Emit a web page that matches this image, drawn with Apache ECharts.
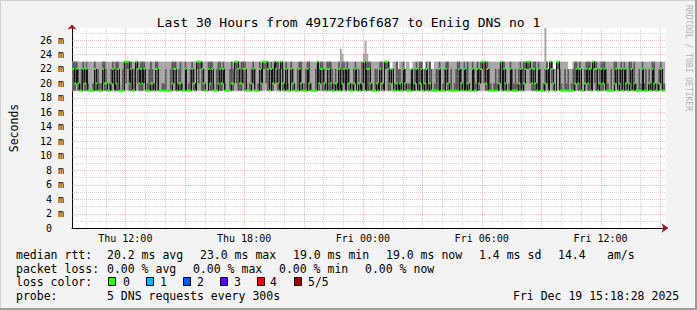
<!DOCTYPE html>
<html><head><meta charset="utf-8">
<script src="https://cdn.jsdelivr.net/npm/echarts@6/dist/echarts.min.js"></script>
<style>html,body{margin:0;padding:0;background:#f3f3f3}#c{width:697px;height:310px}</style>
</head><body><div id="c"></div><script>
// time axis in minutes since Thu Dec 18 00:00
const startTime = 558.4667;   // Thu 09:18:28
const endTime = 2358.4667;    // Fri 15:18:28
const stepMinutes = 5;
const firstStepEnd = 560;
const yMax = 27.66;

const xLabelValues = [720, 1080, 1440, 1800, 2160];
const xLabelTexts = ['Thu 12:00', 'Thu 18:00', 'Fri 00:00', 'Fri 06:00', 'Fri 12:00'];
const hourLines = [600,660,720,780,840,900,960,1020,1080,1140,1200,1260,1320,1380,1440,1500,1560,1620,1680,1740,1800,1860,1920,1980,2040,2100,2160,2220,2280,2340];
const yGridValues = [1,2,3,4,5,6,7,8,9,10,11,12,13,14,15,16,17,18,19,20,21,22,23,24,25,26,27];

// five sorted DNS rtt samples per 5-minute step (ms)
const ping1 = [
19,19,19,19,19,19,19,19,19,19, 19,19,19,19,19,19,19,19,19,19, 19,19,19,19,19,19,19,19,19,19,
19,19,19,19,19,19,19,19,19,19, 19,19,19,19,19,19,19,19,19,19, 19,19,19,19,19,19,19,19,19,19,
19,19,19,19,19,19,19,19,19,19, 19,19,19,19,19,19,19,19,19,19, 19,19,19,19,19,19,19,19,19,19,
19,19,19,19,19,19,19,19,19,19, 19,19,19,19,19,19,19,19,19,19, 19,19,19,19,19,19,19,19,19,19,
19,19,19,19,19,19,19,19,19,19, 19,19,19,19,19,19,19,19,19,19, 19,19,19,19,19,19,19,19,19,19,
19,19,19,19,19,19,19,19,19,19, 19,19,19,19,19,19,19,19,19,19, 19,19,19,19,19,19,19,19,19,19,
19,19,19,19,19,19,19,19,19,19, 19,19,19,19,19,19,19,19,19,19, 19,19,19,19,19,19,19,19,19,19,
19,19,19,19,19,19,19,19,19,19, 19,19,19,19,19,19,19,19,19,19, 19,19,19,19,19,19,19,19,19,19,
19,19,19,19,19,19,19,19,19,19, 19,19,19,19,19,19,19,19,19,19, 19,19,19,19,19,19,19,19,19,19,
19,19,19,19,19,19,19,19,19,19, 19,19,19,19,19,19,19,19,19,19, 19,19,19,19,19,19,19,19,19,19,
19,19,19,19,19,19,19,19,19,19, 19,19,19,19,19,19,19,19,19,19, 19,19,19,19,19,19,19,19,19,19,
19,19,19,19,19,19,19,19,19,19, 19,19,19,19,19,19,19,19,19,19, 19,19,19,19,19,19,19,19,19,19
];
const ping2 = [
19,19,19,20,19,19,19,20,19,19, 19,19,19,19,19,19,19,19,19,20, 19,19,19,19,19,20,19,19,19,19,
19,19,22,20,22,19,19,19,19,22, 20,19,19,19,20,19,19,19,19,19, 19,20,19,19,19,19,19,19,19,19,
19,19,20,19,19,19,19,19,19,19, 19,19,19,20,19,19,22,20,22,19, 19,19,19,20,19,19,19,19,19,19,
19,19,20,19,19,19,19,19,19,22, 20,19,19,19,20,19,19,19,19,19, 20,19,19,19,19,19,22,22,20,19,
19,19,19,22,20,19,19,22,19,19, 19,19,19,20,19,19,19,19,19,19, 19,19,19,19,19,19,19,19,19,22,
19,20,19,19,19,20,19,19,19,19, 19,19,19,19,19,20,19,20,19,19, 19,19,20,19,19,19,19,22,19,19,
19,19,19,19,19,19,19,20,19,19, 22,22,19,19,20,19,19,19,19,19, 19,20,19,19,19,19,19,19,19,20,
19,19,20,19,19,19,19,19,19,19, 19,19,19,19,19,19,19,20,19,19, 19,19,19,19,19,19,19,19,20,19,
19,19,19,19,19,19,19,19,20,22, 20,19,19,19,19,19,19,19,19,19, 22,19,19,19,19,19,20,19,19,19,
19,19,19,19,19,20,22,22,20,19, 19,19,19,19,19,19,19,19,20,19, 22,20,19,19,22,22,19,19,19,19,
19,19,19,19,19,19,20,19,19,19, 19,19,20,19,19,19,22,20,19,19, 19,19,19,20,19,19,19,19,19,19,
20,19,19,19,19,20,19,19,19,19, 19,19,19,19,19,19,20,19,19,19, 19,19,19,19,19,19,19,20,19,19
];
const ping3 = [
22,22,20,22,20,19,19,22,20,22, 19,19,19,19,22,20,19,19,19,22, 20,20,19,19,20,22,19,20,22,19,
19,19,23,23,23,20,22,19,19,23, 22,20,22,20,22,19,19,19,20,20, 19,22,22,19,19,19,19,19,19,19,
19,20,22,22,19,20,20,19,19,22, 19,19,19,22,20,19,23,23,23,22, 20,19,19,22,20,22,19,19,19,20,
22,20,22,19,19,19,19,20,20,23, 23,22,20,20,22,22,19,19,19,20, 22,19,19,19,22,20,23,23,23,22,
19,22,20,23,22,20,19,23,20,19, 22,19,19,22,20,19,19,19,22,20, 19,19,19,22,20,19,19,19,19,23,
20,22,22,20,19,22,22,20,19,19, 20,19,22,19,20,22,19,22,20,19, 19,20,22,19,20,19,20,23,19,22,
22,20,19,19,19,20,19,22,20,19, 23,23,22,20,22,19,19,20,19,20, 19,22,20,19,19,19,22,19,20,22,
19,20,22,19,20,22,19,20,19,19, 19,19,19,22,19,19,19,22,20,19, 19,19,19,19,19,22,20,19,22,19,
20,19,19,22,19,19,22,20,22,23, 23,20,22,19,19,19,19,19,19,20, 23,19,22,20,19,19,22,19,19,19,
19,20,22,19,20,22,23,23,22,20, 22,20,19,22,19,19,19,20,22,19, 23,22,20,19,23,23,19,19,19,19,
19,19,19,19,19,20,22,20,22,19, 19,20,22,20,22,19,23,22,22,19, 20,22,20,22,19,19,19,19,19,20,
22,19,20,22,19,22,20,19,20,22, 19,20,19,19,19,19,22,19,19,19, 20,19,22,20,19,19,20,22,19,19
];
const ping4 = [
23,23,23,23,22,20,22,23,22,23, 20,19,19,20,23,22,22,20,20,23, 23,22,19,20,22,23,22,23,23,20,
19,22,23,23,23,23,23,20,22,23, 23,22,23,23,23,19,20,22,23,22, 20,23,23,19,19,20,20,22,19,19,
22,23,23,23,20,22,23,20,19,23, 19,20,22,23,22,20,23,23,23,23, 22,20,19,23,23,23,20,19,22,23,
23,22,23,20,19,19,22,23,22,23, 23,23,22,23,23,23,20,19,20,22, 23,22,19,20,23,22,23,23,23,23,
20,23,22,23,23,23,22,23,22,19, 23,20,19,23,22,20,19,22,23,23, 19,20,22,23,23,20,19,19,22,23,
22,23,23,22,20,23,23,23,22,20, 22,20,23,22,23,23,20,23,22,19, 20,22,23,19,22,20,23,23,23,23,
23,23,20,19,22,22,20,23,23,19, 23,23,23,22,22,19,20,23,22,22, 20,23,22,19,20,20,22,20,22,23,
22,23,23,20,22,23,20,23,22,19, 20,22,22,23,19,20,22,23,23,20, 22,19,20,22,23,23,22,20,23,22,
23,20,19,23,22,20,23,22,23,23, 23,23,23,22,20,19,20,22,20,22, 23,22,23,22,19,20,23,22,20,22,
20,22,23,22,23,23,23,23,23,22, 23,23,20,23,22,19,20,22,23,20, 23,23,22,19,23,23,22,20,19,22,
20,22,19,20,22,23,23,22,23,20, 19,22,23,23,23,22,23,23,23,20, 22,23,23,23,22,20,19,22,19,23,
23,20,22,23,20,23,22,19,23,23, 22,23,20,19,22,20,23,20,22,19, 22,20,23,23,19,20,22,23,22,20
];
const ping5 = [
23,23,23,23,23,23,23,23,23,23, 23,23,23,23,23,23,23,23,23,23, 23,23,23,23,23,23,23,23,23,23,
23,23,23,23,23,23,23,23,23,23, 23,23,23,23,23,23,23,23,23,23, 23,23,23,23,23,23,23,23,23,23,
23,23,23,23,23,23,23,23,23,23, 23,23,23,23,23,23,23,23,23,23, 23,23,23,23,23,23,23,23,23,23,
23,23,23,23,23,23,23,23,23,23, 23,23,23,23,23,23,23,23,23,23, 23,23,23,23,23,23,23,23,23,23,
23,23,23,23,23,23,23,23,23,23, 23,23,23,23,23,23,23,23,23,23, 23,23,23,23,23,23,23,23,23,23,
23,23,23,23,23,23,23,23,23,23, 23,23,23,24.8,24.1,23,23,23,23,23, 23,23,23,23,23,23,23,24.1,25.9,24.1,
23,23,23,23,23,23,23,23,23,23, 23,23,23,22,22,23,23,23,22,23, 23,23,22,23,23,22,22,23,23,23,
23,23,23,22,22,23,23,23,22,22, 23,23,23,23,23,23,23,23,23,23, 23,23,23,23,23,23,23,23,23,23,
23,23,23,23,23,23,23,23,23,23, 23,23,23,23,23,23,23,23,23,23, 23,23,23,23,23,23,23,23,23,23,
23,23,23,23,23,23,23,23,23,23, 23,23,23,23,23,23,23,27.7,23,20, 23,23,22,22,23,23,23,23,23,23,
23,22,22,22,23,23,23,23,23,23, 23,23,23,23,23,23,23,23,23,23, 23,23,23,23,23,23,23,23,23,23,
23,23,23,23,23,23,23,23,23,23, 23,23,23,23,23,23,23,23,23,23, 23,23,23,23,23,23,23,23,23,23
];

const lossColors = ['#26ff00', '#00b8ff', '#0059ff', '#5e00ff', '#ff0000', '#a10000'];
const lossLabels = ['0', '1', '2', '3', '4', '5/5'];

const titleText = 'Last 30 Hours from 49172fb6f687 to Eniig DNS no 1';
const medianRow = ['median rtt:', '20.2 ms avg', '23.0 ms max', '19.0 ms min', '19.0 ms now', '1.4 ms sd', '14.4', 'am/s'];
const lossRow = ['packet loss:', '0.00 % avg', '0.00 % max', '0.00 % min', '0.00 % now'];
const probeRow = ['probe:', '5 DNS requests every 300s'];
const dateText = 'Fri Dec 19 15:18:28 2025';

// ---------- layout ----------
const MONO = '"DejaVu Sans Mono", monospace';
const LEG_FONT = '11.5px ' + MONO;
const medianX = [16, 107, 200, 293, 386, 479, 558, 607];
const lossX = [16, 107, 193, 279, 365];
const boxX = [108, 146, 183, 220, 257, 294];
const boxLabelX = [123, 160, 197, 234, 270, 308];
const rowY = [254.5, 268.5, 282, 296];
const MAJOR = 'rgba(232,120,120,0.5)';
const MINOR = 'rgba(160,160,160,0.42)';

const steps = ping3.map((m, i) => [firstStepEnd + stepMinutes * i, ping1[i], ping2[i], m, ping4[i], ping5[i]]);

function stepBox(api) {
  const tEnd = api.value(0);
  const tStart = Math.max(tEnd - stepMinutes, startTime);
  const x0 = api.coord([tStart, 0])[0];
  const x1 = api.coord([Math.min(tEnd, endTime), 0])[0];
  return {x0, w: x1 - x0 + 0.35, tEnd};
}
function renderSmoke(params, api) {
  const b = stepBox(api);
  const cy = v => api.coord([b.tEnd, Math.min(v, yMax)])[1];
  const p1 = api.value(1), p2 = api.value(2), p4 = api.value(4), p5 = api.value(5);
  return {type: 'group', children: [
    {type: 'rect', shape: {x: b.x0, y: cy(p5), width: b.w, height: cy(p1) - cy(p5)}, style: {fill: '#a6a6a6'}},
    {type: 'rect', shape: {x: b.x0, y: cy(p4), width: b.w, height: Math.max(cy(p2) - cy(p4), 0)}, style: {fill: '#555555'}}
  ]};
}
function renderMedian(params, api) {
  const b = stepBox(api);
  const i = params.dataIndex;
  const m = api.value(3);
  const ym = api.coord([b.tEnd, m])[1];
  const children = [];
  if (i > 0 && ping3[i - 1] !== m) {
    const yp = api.coord([b.tEnd, ping3[i - 1]])[1];
    const xl = Math.round(b.x0) + 0.5;
    children.push({type: 'line', shape: {x1: xl, y1: yp, x2: xl, y2: ym}, style: {stroke: '#151515', lineWidth: 1}});
  }
  children.push({type: 'rect', shape: {x: b.x0, y: ym - 1, width: b.w, height: 2}, style: {fill: lossColors[0]}});
  return {type: 'group', children};
}
function renderVGrid(params, api) {
  const t = api.value(0);
  const a = api.coord([t, 0]), c = api.coord([t, yMax]);
  const x = Math.round(a[0]) + 0.5;
  return {type: 'line', shape: {x1: x, y1: a[1], x2: x, y2: c[1]},
    style: {stroke: t % 180 === 0 ? MAJOR : MINOR, lineWidth: 1, lineDash: [1, 1]}};
}
function renderHGrid(params, api) {
  const v = api.value(1);
  const a = api.coord([startTime, v]), c = api.coord([endTime, v]);
  const y = Math.round(a[1]) + 0.5;
  return {type: 'line', shape: {x1: a[0], y1: y, x2: c[0], y2: y},
    style: {stroke: v % 2 === 0 ? MAJOR : MINOR, lineWidth: 1, lineDash: [1, 1]}};
}
function yLabel(v) {
  if (v === 0) return '0\u2007\u2007';
  return (Math.abs(v % 2) < 1e-9 && v < 27) ? (Math.round(v) + ' m') : '';
}

const graphics = [];
// frame
graphics.push({type: 'rect', shape: {x: 0, y: 0, width: 697, height: 310}, style: {fill: 'none', stroke: '#d0d0d0', lineWidth: 2}, silent: true});
graphics.push({type: 'line', shape: {x1: 0, y1: 309, x2: 697, y2: 309}, style: {stroke: '#9c9c9c', lineWidth: 2}, silent: true});
graphics.push({type: 'line', shape: {x1: 696, y1: 0, x2: 696, y2: 310}, style: {stroke: '#9c9c9c', lineWidth: 2}, silent: true});
graphics.push({type: 'text', x: 688, y: 58, rotation: -Math.PI / 2,
  style: {text: 'RRDTOOL / TOBI OETIKER', font: '8px ' + MONO, fill: '#b4b4b4', align: 'center', verticalAlign: 'middle'}});
medianRow.forEach((t, i) => graphics.push({type: 'text', x: medianX[i], y: rowY[0], style: {text: t, font: LEG_FONT, fill: '#000', verticalAlign: 'middle'}}));
lossRow.forEach((t, i) => graphics.push({type: 'text', x: lossX[i], y: rowY[1], style: {text: t, font: LEG_FONT, fill: '#000', verticalAlign: 'middle'}}));
graphics.push({type: 'text', x: 16, y: rowY[2], style: {text: 'loss color:', font: LEG_FONT, fill: '#000', verticalAlign: 'middle'}});
lossColors.forEach((c, i) => {
  graphics.push({type: 'rect', shape: {x: boxX[i] + 0.5, y: rowY[2] - 4.5, width: 7, height: 8}, style: {fill: c, stroke: '#000', lineWidth: 1}});
  graphics.push({type: 'text', x: boxLabelX[i], y: rowY[2], style: {text: lossLabels[i], font: LEG_FONT, fill: '#000', verticalAlign: 'middle'}});
});
graphics.push({type: 'text', x: 16, y: rowY[3], style: {text: probeRow[0], font: LEG_FONT, fill: '#000', verticalAlign: 'middle'}});
graphics.push({type: 'text', x: 107, y: rowY[3], style: {text: probeRow[1], font: LEG_FONT, fill: '#000', verticalAlign: 'middle'}});
graphics.push({type: 'text', x: 513, y: rowY[3], style: {text: dateText, font: LEG_FONT, fill: '#000', verticalAlign: 'middle'}});

const chart = echarts.init(document.getElementById('c'), null, {renderer: 'svg', width: 697, height: 310});
chart.setOption({
  backgroundColor: '#f3f3f3',
  animation: false,
  title: {text: titleText, left: 'center', top: 11,
    textStyle: {fontFamily: MONO, fontSize: 13, fontWeight: 'normal', color: '#000'}},
  grid: {left: 66, right: 31, top: 28, bottom: 82, show: true, backgroundColor: '#ffffff', borderWidth: 0},
  xAxis: [{
    type: 'value', min: startTime, max: endTime,
    axisLine: {show: true, onZero: false, lineStyle: {color: '#000', width: 1}},
    axisTick: {show: false}, splitLine: {show: false},
    axisLabel: {customValues: xLabelValues, formatter: v => { const k = xLabelValues.indexOf(v); return k >= 0 ? xLabelTexts[k] : ''; },
      fontFamily: MONO, fontSize: 10, color: '#000', margin: 5}
  }, {
    type: 'value', min: startTime, max: endTime, position: 'bottom',
    axisLine: {show: true, onZero: false, symbol: ['none', 'arrow'], symbolSize: [7, 7], symbolOffset: [0, 2.5], lineStyle: {color: '#a01818', width: 0}},
    axisTick: {show: false}, splitLine: {show: false}, axisLabel: {show: false}
  }],
  yAxis: [{
    type: 'value', min: 0, max: yMax, interval: 1,
    name: 'Seconds', nameLocation: 'middle', nameGap: 52, nameRotate: 90,
    nameTextStyle: {fontFamily: MONO, fontSize: 11.5, color: '#000'},
    axisLine: {show: true, lineStyle: {color: '#000', width: 1}},
    axisTick: {show: false}, splitLine: {show: false},
    axisLabel: {showMaxLabel: false, fontFamily: MONO, fontSize: 10, color: '#000', margin: 8, formatter: yLabel}
  }, {
    type: 'value', min: 0, max: yMax, position: 'left',
    axisLine: {show: true, symbol: ['none', 'arrow'], symbolSize: [7, 5], symbolOffset: [0, 3.5], lineStyle: {color: '#a01818', width: 0}},
    axisTick: {show: false}, splitLine: {show: false}, axisLabel: {show: false}
  }],
  graphic: graphics,
  series: [
    {type: 'custom', name: 'smoke', renderItem: renderSmoke, data: steps, z: 2, clip: true, silent: true},
    {type: 'custom', name: 'vgrid', renderItem: renderVGrid, data: hourLines.map(t => [t, 0]), z: 3, silent: true},
    {type: 'custom', name: 'hgrid', renderItem: renderHGrid, data: yGridValues.map(v => [startTime, v]), z: 3, silent: true},
    {type: 'custom', name: 'median', renderItem: renderMedian, data: steps, z: 4, clip: true, silent: true}
  ]
});
</script></body></html>
